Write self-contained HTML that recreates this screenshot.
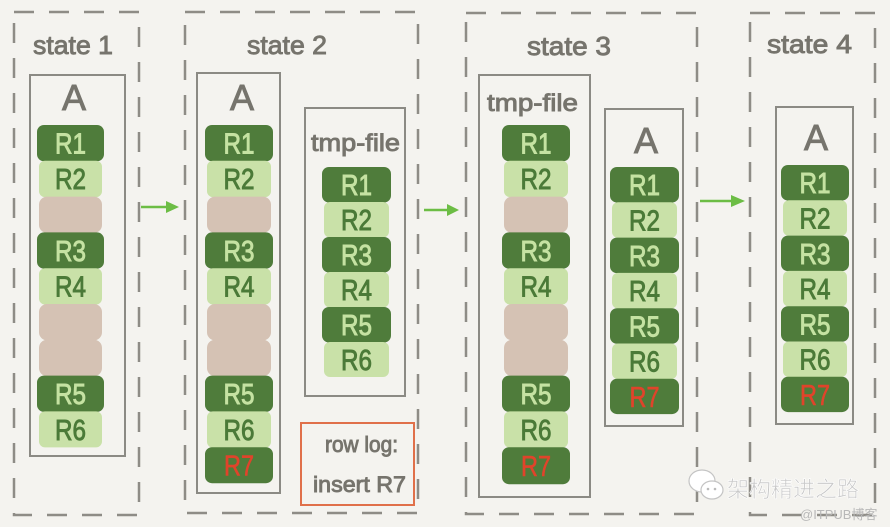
<!DOCTYPE html>
<html><head><meta charset="utf-8"><style>
html,body{margin:0;padding:0;background:#f4f3ef;}
svg{display:block;}
.lbl{font-family:"Liberation Sans",sans-serif;fill:#76746d;stroke:#76746d;stroke-width:0.9;}
.d{fill:#4f7c3b;}
.l{fill:#c9e1a8;}
.t{fill:#d5c2b4;}
.td{font-family:"Liberation Sans",sans-serif;font-size:29px;fill:#c5e2a2;stroke:#c5e2a2;stroke-width:0.9;text-anchor:middle;}
.tl{font-family:"Liberation Sans",sans-serif;font-size:29px;fill:#4b7a38;stroke:#4b7a38;stroke-width:0.9;text-anchor:middle;}
.tr{font-family:"Liberation Sans",sans-serif;font-size:29px;fill:#e0442b;stroke:#e0442b;stroke-width:0.6;text-anchor:middle;}
.dash{fill:none;stroke:#8e8c86;stroke-width:2.5;stroke-dasharray:20 15;}
.box{fill:none;stroke:#8b8a84;stroke-width:2;}
</style></head><body>
<svg width="890" height="527" viewBox="0 0 890 527" xmlns="http://www.w3.org/2000/svg">
<rect width="890" height="527" fill="#f4f3ef"/>

<!-- dashed state boxes -->
<rect class="dash" x="14" y="12" width="125" height="503"/>
<rect class="dash" x="185" y="12" width="233" height="501"/>
<rect class="dash" x="466" y="13" width="231" height="501"/>
<rect class="dash" x="750" y="13" width="125" height="502"/>

<!-- state labels -->
<text class="lbl" x="33" y="54" font-size="26" textLength="80" lengthAdjust="spacingAndGlyphs">state 1</text>
<text class="lbl" x="247" y="54" font-size="26" textLength="80" lengthAdjust="spacingAndGlyphs">state 2</text>
<text class="lbl" x="527" y="55" font-size="26" textLength="84" lengthAdjust="spacingAndGlyphs">state 3</text>
<text class="lbl" x="767" y="53" font-size="26" textLength="85" lengthAdjust="spacingAndGlyphs">state 4</text>

<!-- inner boxes -->
<rect class="box" x="30" y="75" width="95" height="381"/>
<rect class="box" x="197" y="73" width="83" height="420"/>
<rect class="box" x="305" y="108" width="100" height="288"/>
<rect x="301" y="423" width="113" height="82" fill="none" stroke="#e0704a" stroke-width="2"/>
<rect class="box" x="479" y="75" width="111" height="422"/>
<rect class="box" x="605" y="109" width="78" height="317"/>
<rect class="box" x="776" y="107" width="77" height="317"/>

<!-- box labels -->
<text class="lbl" x="74" y="110" font-size="36" text-anchor="middle">A</text>
<text class="lbl" x="242" y="110" font-size="36" text-anchor="middle">A</text>
<text class="lbl" x="311" y="151" font-size="24" textLength="89" lengthAdjust="spacingAndGlyphs">tmp-file</text>
<text class="lbl" x="487" y="111" font-size="24" textLength="91" lengthAdjust="spacingAndGlyphs">tmp-file</text>
<text class="lbl" x="646" y="153" font-size="36" text-anchor="middle">A</text>
<text class="lbl" x="816" y="150" font-size="36" text-anchor="middle">A</text>

<text class="lbl" x="325" y="452" font-size="22" textLength="73" lengthAdjust="spacingAndGlyphs">row log:</text>
<text class="lbl" x="313" y="492" font-size="22" textLength="93" lengthAdjust="spacingAndGlyphs">insert R7</text>

<!-- State 1 column -->
<rect class="d" x="37" y="125" width="67" height="36.3" rx="7"/>
<rect class="l" x="39" y="160.8" width="63" height="36.3" rx="6"/>
<rect class="t" x="39" y="196.6" width="63" height="36.3" rx="8"/>
<rect class="d" x="37" y="232.4" width="67" height="36.3" rx="7"/>
<rect class="l" x="39" y="268.2" width="63" height="36.3" rx="6"/>
<rect class="t" x="39" y="304" width="63" height="36.3" rx="8"/>
<rect class="t" x="39" y="339.8" width="63" height="36.3" rx="8"/>
<rect class="d" x="37" y="375.6" width="67" height="36.3" rx="7"/>
<rect class="l" x="39" y="411.4" width="63" height="36" rx="6"/>
<text class="td" x="70.5" y="153.4" textLength="31" lengthAdjust="spacingAndGlyphs">R1</text>
<text class="tl" x="70.5" y="189.2" textLength="31" lengthAdjust="spacingAndGlyphs">R2</text>
<text class="td" x="70.5" y="260.8" textLength="31" lengthAdjust="spacingAndGlyphs">R3</text>
<text class="tl" x="70.5" y="296.6" textLength="31" lengthAdjust="spacingAndGlyphs">R4</text>
<text class="td" x="70.5" y="404" textLength="31" lengthAdjust="spacingAndGlyphs">R5</text>
<text class="tl" x="70.5" y="439.8" textLength="31" lengthAdjust="spacingAndGlyphs">R6</text>

<!-- State 2 A column -->
<rect class="d" x="205" y="125" width="68" height="36.3" rx="7"/>
<rect class="l" x="207" y="160.8" width="64" height="36.3" rx="6"/>
<rect class="t" x="207" y="196.6" width="64" height="36.3" rx="8"/>
<rect class="d" x="205" y="232.4" width="68" height="36.3" rx="7"/>
<rect class="l" x="207" y="268.2" width="64" height="36.3" rx="6"/>
<rect class="t" x="207" y="304" width="64" height="36.3" rx="8"/>
<rect class="t" x="207" y="339.8" width="64" height="36.3" rx="8"/>
<rect class="d" x="205" y="375.6" width="68" height="36.3" rx="7"/>
<rect class="l" x="207" y="411.4" width="64" height="36.3" rx="6"/>
<rect class="d" x="205" y="447.2" width="68" height="36" rx="7"/>
<text class="td" x="239" y="153.4" textLength="31" lengthAdjust="spacingAndGlyphs">R1</text>
<text class="tl" x="239" y="189.2" textLength="31" lengthAdjust="spacingAndGlyphs">R2</text>
<text class="td" x="239" y="260.8" textLength="31" lengthAdjust="spacingAndGlyphs">R3</text>
<text class="tl" x="239" y="296.6" textLength="31" lengthAdjust="spacingAndGlyphs">R4</text>
<text class="td" x="239" y="404" textLength="31" lengthAdjust="spacingAndGlyphs">R5</text>
<text class="tl" x="239" y="439.8" textLength="31" lengthAdjust="spacingAndGlyphs">R6</text>
<text class="tr" x="239" y="475.6" textLength="30" lengthAdjust="spacingAndGlyphs">R7</text>

<!-- State 2 tmp-file column -->
<rect class="d" x="322" y="167" width="69" height="35.5" rx="7"/>
<rect class="l" x="324" y="202" width="65" height="35.5" rx="6"/>
<rect class="d" x="322" y="237" width="69" height="35.5" rx="7"/>
<rect class="l" x="324" y="272" width="65" height="35.5" rx="6"/>
<rect class="d" x="322" y="307" width="69" height="35.5" rx="7"/>
<rect class="l" x="324" y="342" width="65" height="35" rx="6"/>
<text class="td" x="356.5" y="195" textLength="31" lengthAdjust="spacingAndGlyphs">R1</text>
<text class="tl" x="356.5" y="230" textLength="31" lengthAdjust="spacingAndGlyphs">R2</text>
<text class="td" x="356.5" y="265" textLength="31" lengthAdjust="spacingAndGlyphs">R3</text>
<text class="tl" x="356.5" y="300" textLength="31" lengthAdjust="spacingAndGlyphs">R4</text>
<text class="td" x="356.5" y="335" textLength="31" lengthAdjust="spacingAndGlyphs">R5</text>
<text class="tl" x="356.5" y="370" textLength="31" lengthAdjust="spacingAndGlyphs">R6</text>

<!-- State 3 tmp-file column -->
<rect class="d" x="502" y="125" width="68" height="36.3" rx="7"/>
<rect class="l" x="504" y="160.8" width="64" height="36.3" rx="6"/>
<rect class="t" x="504" y="196.6" width="64" height="36.3" rx="8"/>
<rect class="d" x="502" y="232.4" width="68" height="36.3" rx="7"/>
<rect class="l" x="504" y="268.2" width="64" height="36.3" rx="6"/>
<rect class="t" x="504" y="304" width="64" height="36.3" rx="8"/>
<rect class="t" x="504" y="339.8" width="64" height="36.3" rx="8"/>
<rect class="d" x="502" y="375.6" width="68" height="36.3" rx="7"/>
<rect class="l" x="504" y="411.4" width="64" height="36.3" rx="6"/>
<rect class="d" x="502" y="447.2" width="68" height="37" rx="7"/>
<text class="td" x="536" y="153.4" textLength="31" lengthAdjust="spacingAndGlyphs">R1</text>
<text class="tl" x="536" y="189.2" textLength="31" lengthAdjust="spacingAndGlyphs">R2</text>
<text class="td" x="536" y="260.8" textLength="31" lengthAdjust="spacingAndGlyphs">R3</text>
<text class="tl" x="536" y="296.6" textLength="31" lengthAdjust="spacingAndGlyphs">R4</text>
<text class="td" x="536" y="404" textLength="31" lengthAdjust="spacingAndGlyphs">R5</text>
<text class="tl" x="536" y="439.8" textLength="31" lengthAdjust="spacingAndGlyphs">R6</text>
<text class="tr" x="536" y="476" textLength="30" lengthAdjust="spacingAndGlyphs">R7</text>

<!-- State 3 A column -->
<rect class="d" x="610" y="167" width="69" height="35.6" rx="7"/>
<rect class="l" x="612" y="202.3" width="65" height="35.6" rx="6"/>
<rect class="d" x="610" y="237.6" width="69" height="35.6" rx="7"/>
<rect class="l" x="612" y="272.9" width="65" height="35.6" rx="6"/>
<rect class="d" x="610" y="308.2" width="69" height="35.6" rx="7"/>
<rect class="l" x="612" y="343.5" width="65" height="35.6" rx="6"/>
<rect class="d" x="610" y="378.8" width="69" height="35.3" rx="7"/>
<text class="td" x="644.5" y="195.2" textLength="31" lengthAdjust="spacingAndGlyphs">R1</text>
<text class="tl" x="644.5" y="230.5" textLength="31" lengthAdjust="spacingAndGlyphs">R2</text>
<text class="td" x="644.5" y="265.8" textLength="31" lengthAdjust="spacingAndGlyphs">R3</text>
<text class="tl" x="644.5" y="301.1" textLength="31" lengthAdjust="spacingAndGlyphs">R4</text>
<text class="td" x="644.5" y="336.4" textLength="31" lengthAdjust="spacingAndGlyphs">R5</text>
<text class="tl" x="644.5" y="371.7" textLength="31" lengthAdjust="spacingAndGlyphs">R6</text>
<text class="tr" x="644.5" y="407" textLength="30" lengthAdjust="spacingAndGlyphs">R7</text>

<!-- State 4 A column -->
<rect class="d" x="781" y="165" width="68" height="35.6" rx="7"/>
<rect class="l" x="783" y="200.3" width="64" height="35.6" rx="6"/>
<rect class="d" x="781" y="235.6" width="68" height="35.6" rx="7"/>
<rect class="l" x="783" y="270.9" width="64" height="35.6" rx="6"/>
<rect class="d" x="781" y="306.2" width="68" height="35.6" rx="7"/>
<rect class="l" x="783" y="341.5" width="64" height="35.6" rx="6"/>
<rect class="d" x="781" y="376.8" width="68" height="35.3" rx="7"/>
<text class="td" x="815" y="193.2" textLength="31" lengthAdjust="spacingAndGlyphs">R1</text>
<text class="tl" x="815" y="228.5" textLength="31" lengthAdjust="spacingAndGlyphs">R2</text>
<text class="td" x="815" y="263.8" textLength="31" lengthAdjust="spacingAndGlyphs">R3</text>
<text class="tl" x="815" y="299.1" textLength="31" lengthAdjust="spacingAndGlyphs">R4</text>
<text class="td" x="815" y="334.4" textLength="31" lengthAdjust="spacingAndGlyphs">R5</text>
<text class="tl" x="815" y="369.7" textLength="31" lengthAdjust="spacingAndGlyphs">R6</text>
<text class="tr" x="815" y="405" textLength="30" lengthAdjust="spacingAndGlyphs">R7</text>

<!-- arrows -->
<g stroke="#6cbd45" stroke-width="2.5" fill="#6cbd45">
<line x1="141" y1="207" x2="168" y2="207"/>
<polygon points="166,201 179,207 166,213" stroke="none"/>
<line x1="424" y1="210" x2="449" y2="210"/>
<polygon points="447,204 459,210 447,216" stroke="none"/>
<line x1="700" y1="201" x2="733" y2="201"/>
<polygon points="731,195 745,201 731,207" stroke="none"/>
</g>

<!-- watermark -->
<ellipse cx="702" cy="481" rx="13" ry="11" fill="#ffffff" stroke="#c4c4c4" stroke-width="1.2"/>
<ellipse cx="712" cy="490" rx="11" ry="9" fill="#ffffff" stroke="#c4c4c4" stroke-width="1.2"/>
<circle cx="708" cy="489" r="1.3" fill="#bbb"/>
<circle cx="715" cy="489" r="1.3" fill="#bbb"/>
<text x="727" y="497" font-family="'Liberation Sans','Noto Sans CJK SC',sans-serif" font-size="22" fill="#c8c8c8" stroke="#ffffff" stroke-width="0.6">架构精进之路</text>
<text x="800" y="519" font-family="'Liberation Sans','Noto Sans CJK SC',sans-serif" font-size="13" fill="#b8b8b8">@ITPUB博客</text>
</svg>
</body></html>
